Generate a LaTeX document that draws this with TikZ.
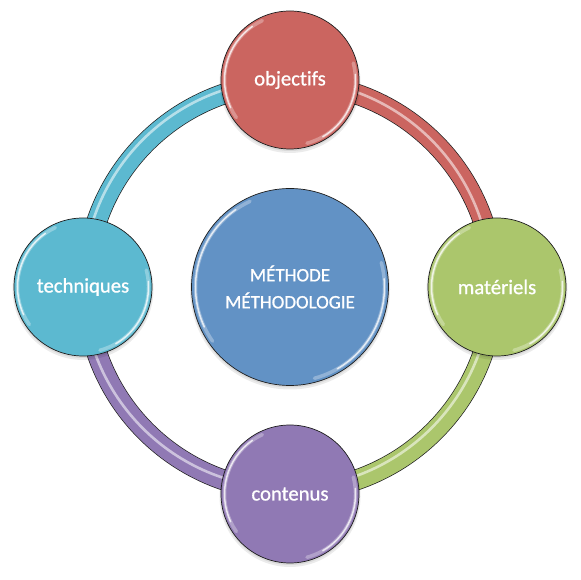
\documentclass[tikz,border=0pt]{standalone}
\usepackage{fontspec}
\setmainfont{Carlito}
\newfontfamily\labfont{Carlito}[FakeBold=0.9, Ligatures=NoCommon]
\definecolor{cblue}{RGB}{98,146,197}
\definecolor{cred}{RGB}{203,101,96}
\definecolor{cgreen}{RGB}{171,198,108}
\definecolor{cpurple}{RGB}{144,121,180}
\definecolor{ccyan}{RGB}{92,185,208}
\definecolor{edge}{RGB}{30,30,30}
\begin{document}
\begin{tikzpicture}[x=1pt,y=1pt,
  ball/.style={circle, draw=edge, line width=0.7pt, inner sep=0pt, text=white,
    minimum size=138pt, font=\labfont\fontsize{20.7}{25}\selectfont},
  bigball/.style={ball, minimum size=197pt, align=center, font=\labfont\fontsize{19}{27}\selectfont},
  ringout/.style={edge, line width=20.8pt},
  ringin/.style={line width=19.4pt},
  ringhl/.style={white, opacity=0.55, line width=2.6pt},
  hl/.style={white, opacity=0.75, line width=1.5pt, line cap=round},
  hlsoft/.style={white, opacity=0.3, line width=3.5pt, line cap=round},
  shade/.style={black, opacity=0.08},
]
\useasboundingbox (0,0) rectangle (580,580);
\coordinate (O) at (290,293);
% ring end points (radius 204)
\coordinate (rT) at (290,497);
\coordinate (rL) at (86,293);
\coordinate (rB) at (290,89);
\coordinate (rR) at (494,293);
% highlight centre shifted to upper left
\coordinate (rT2) at (287,500);
\coordinate (rL2) at (83,296);
\coordinate (rB2) at (287,92);
\coordinate (rR2) at (491,296);
% ring segments
\foreach \s/\a/\c/\h in {rL/180/ccyan/rL2, rT/90/cred/rT2, rR/0/cgreen/rR2, rB/270/cpurple/rB2}{
  \draw[ringout] (\s) arc[start angle=\a, delta angle=-90, radius=204];
  \draw[ringin, \c] (\s) arc[start angle=\a, delta angle=-90, radius=204];
  \draw[ringhl] (\h) arc[start angle=\a, delta angle=-90, radius=204];
}
% shadows
\foreach \p/\r in {{(290,293)}/98.5, {(290,500)}/69, {(83,293)}/69, {(497,293)}/69, {(290,86)}/69}{
  \fill[shade] \p ++(0,-2.5) circle[radius=\r+1.5];
  \fill[shade] \p ++(0,-1.5) circle[radius=\r+0.5];
}
% nodes
\node[bigball, fill=cblue] (m) at (290,293) {MÉTHODE\\MÉTHODOLOGIE};
\node[ball, fill=cred] (obj) at (290,500) {objectifs};
\node[ball, fill=cgreen] (mat) at (497,293) {matériels};
\node[ball, fill=cpurple] (con) at (290,86) {contenus};
\node[ball, fill=ccyan] (tec) at (83,293) {techniques};
% bevel highlights
\foreach \n/\r in {m/94.5, obj/65.5, mat/65.5, con/65.5, tec/65.5}{
  \draw[hlsoft] (\n.center) ++(115:\r) arc[start angle=115, end angle=215, radius=\r];
  \draw[hl] (\n.center) ++(125:\r) arc[start angle=125, end angle=205, radius=\r];
  \draw[hlsoft] (\n.center) ++(-75:\r) arc[start angle=-75, end angle=15, radius=\r];
  \draw[hl] (\n.center) ++(-60:\r) arc[start angle=-60, end angle=5, radius=\r];
}
\end{tikzpicture}
\end{document}
